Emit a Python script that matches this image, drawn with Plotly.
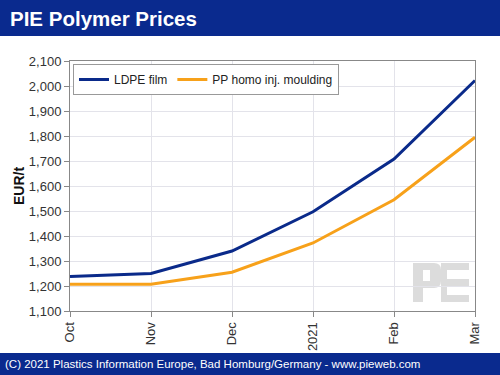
import plotly.graph_objects as go

months = ["Oct", "Nov", "Dec", "2021", "Feb", "Mar"]
ldpe_film = [1238, 1250, 1340, 1497, 1708, 2022]
pp_homo_inj = [1207, 1207, 1255, 1372, 1545, 1795]
y_ticks = list(range(1100, 2101, 100))

W, H = 500, 375
L, R, T, B = 70, 25, 61, 64
pw, ph = W - L - R, H - T - B

def px(x):
    return (x - L) / pw

def py(y):
    return (H - B - y) / ph

xs = list(range(len(months)))
fig = go.Figure()
fig.add_trace(go.Scatter(x=xs, y=ldpe_film, mode="lines", name="LDPE film",
                         line=dict(color="#0a2a8a", width=3), cliponaxis=False))
fig.add_trace(go.Scatter(x=xs, y=pp_homo_inj, mode="lines", name="PP homo inj. moulding",
                         line=dict(color="#f7a11a", width=3), cliponaxis=False))

blue = "#0a2a8e"
wm = "#dcdcdc"
fig.update_layout(
    width=W, height=H,
    margin=dict(l=L, r=R, t=T, b=B),
    paper_bgcolor="white", plot_bgcolor="white",
    font=dict(family="Liberation Sans, Arial", color="#333333", size=13),
    showlegend=True,
    legend=dict(orientation="h", x=px(73), y=py(64), xanchor="left", yanchor="top",
                bgcolor="white", bordercolor="#999999", borderwidth=1,
                font=dict(size=12, color="#222222"), itemwidth=30,
                tracegroupgap=0),
    xaxis=dict(range=[0, 5], tickmode="array", tickvals=xs, ticktext=months,
               tickangle=-90, showgrid=True, gridcolor="#e3e3ea", gridwidth=1,
               showline=True, linecolor="#888888", linewidth=1, mirror=True,
               ticks="outside", ticklen=5, tickcolor="#888888", zeroline=False,
               tickfont=dict(size=13, color="#333333")),
    yaxis=dict(range=[1100, 2100], tickmode="array", tickvals=y_ticks,
               ticktext=[f"{v:,}" for v in y_ticks],
               showgrid=True, gridcolor="#e3e3ea", gridwidth=1,
               showline=True, linecolor="#888888", linewidth=1, mirror=True,
               ticks="outside", ticklen=5, tickcolor="#888888", zeroline=False,
               tickfont=dict(size=13, color="#333333")),
    shapes=[
        dict(type="rect", xref="paper", yref="paper", x0=px(0), x1=px(W), y0=py(36), y1=py(0),
             fillcolor=blue, line=dict(width=0), layer="below"),
        dict(type="rect", xref="paper", yref="paper", x0=px(0), x1=px(W), y0=py(H), y1=py(353),
             fillcolor=blue, line=dict(width=0), layer="below"),
        # PE watermark: P
        dict(type="path", xref="paper", yref="paper", layer="below",
             path=(f"M {px(413)},{py(302)} L {px(413)},{py(263)} L {px(434)},{py(263)} "
                   f"Q {px(441)},{py(263)} {px(441)},{py(270)} L {px(441)},{py(281)} "
                   f"Q {px(441)},{py(288)} {px(434)},{py(288)} L {px(423)},{py(288)} "
                   f"L {px(423)},{py(302)} Z "
                   f"M {px(423)},{py(270)} L {px(423)},{py(281)} L {px(430)},{py(281)} "
                   f"L {px(430)},{py(270)} Z"),
             fillcolor=wm, line=dict(width=0)),
        # PE watermark: E
        dict(type="rect", xref="paper", yref="paper", layer="below",
             x0=px(445), x1=px(469), y0=py(270), y1=py(263), fillcolor=wm, line=dict(width=0)),
        dict(type="rect", xref="paper", yref="paper", layer="below",
             x0=px(445), x1=px(469), y0=py(286), y1=py(279), fillcolor=wm, line=dict(width=0)),
        dict(type="rect", xref="paper", yref="paper", layer="below",
             x0=px(445), x1=px(469), y0=py(302), y1=py(295), fillcolor=wm, line=dict(width=0)),
        dict(type="rect", xref="paper", yref="paper", layer="below",
             x0=px(441), x1=px(447), y0=py(302), y1=py(263), fillcolor=wm, line=dict(width=0)),
    ],
    annotations=[
        dict(text="<b>PIE Polymer Prices</b>", xref="paper", yref="paper", x=px(8), y=py(18),
             xanchor="left", yanchor="middle", showarrow=False,
             font=dict(size=20.5, color="white", family="Liberation Sans, Arial")),
        dict(text="(C) 2021 Plastics Information Europe, Bad Homburg/Germany - www.pieweb.com",
             xref="paper", yref="paper", x=px(3), y=py(364), xanchor="left", yanchor="middle",
             showarrow=False, font=dict(size=11.5, color="white", family="Liberation Sans, Arial")),
        dict(text="<b>EUR/t</b>", xref="paper", yref="paper", x=px(19), y=py(186),
             xanchor="center", yanchor="middle", showarrow=False, textangle=-90,
             font=dict(size=14, color="#111111", family="Liberation Sans, Arial")),
    ],
)

fig.write_html("out.html", config={"displayModeBar": False},
               post_script="document.body.style.margin='0';document.body.style.padding='0';")
